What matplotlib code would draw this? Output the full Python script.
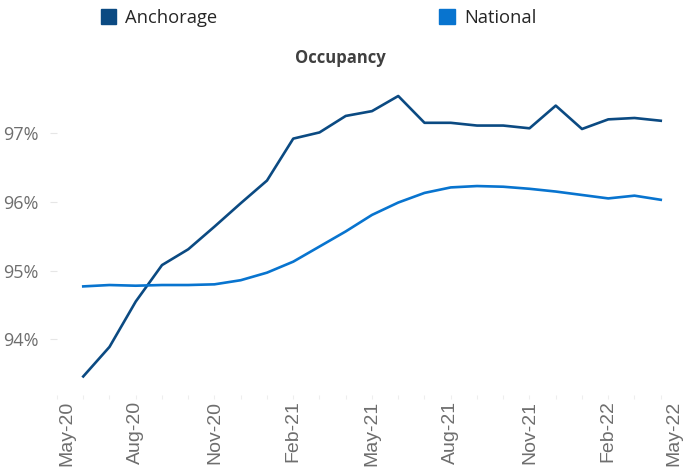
import matplotlib as mpl
mpl.use('Agg')
import matplotlib.pyplot as plt
import matplotlib.transforms as mtransforms
from matplotlib.patches import Patch
from matplotlib.ticker import MultipleLocator, FuncFormatter

# monthly data, Jun-20 .. Apr-22 (axis runs May-20 .. May-22)
axis_months = ['May-20', 'Jun-20', 'Jul-20', 'Aug-20', 'Sep-20', 'Oct-20', 'Nov-20',
               'Dec-20', 'Jan-21', 'Feb-21', 'Mar-21', 'Apr-21', 'May-21', 'Jun-21',
               'Jul-21', 'Aug-21', 'Sep-21', 'Oct-21', 'Nov-21', 'Dec-21', 'Jan-22',
               'Feb-22', 'Mar-22', 'Apr-22', 'May-22']
anchorage = [93.46, 93.89, 94.55, 95.08, 95.31, 95.64, 95.98, 96.31, 96.92, 97.01,
             97.25, 97.32, 97.54, 97.15, 97.15, 97.11, 97.11, 97.07, 97.40, 97.06,
             97.20, 97.22, 97.18]
national = [94.77, 94.79, 94.78, 94.79, 94.79, 94.80, 94.86, 94.97, 95.13, 95.35,
            95.57, 95.81, 95.99, 96.13, 96.21, 96.23, 96.22, 96.19, 96.15, 96.10,
            96.05, 96.09, 96.03]
y_ticks = [94, 95, 96, 97]

dark = '#0b4a82'
light = '#0874cf'
grey = '#6e6e6e'

fig = plt.figure(figsize=(6.83, 4.69), dpi=100)
ax = fig.add_axes([57 / 683, 1 - 395 / 469, 630 / 683, (395 - 85) / 469])

xs = list(range(1, len(anchorage) + 1))
ax.plot(xs, anchorage, color=dark, lw=1.9)
ax.plot(xs, national, color=light, lw=1.9)

ax.set_xlim(0, len(axis_months) - 1)
ax.set_ylim(93.19, 97.7)

for s in ax.spines.values():
    s.set_visible(False)

ax.set_yticks(y_ticks)
ax.yaxis.set_major_formatter(FuncFormatter(lambda v, p: '%d%%' % v))
ax.tick_params(axis='y', length=5, width=0.8, color='#e6e6e6', pad=8,
               labelsize=13, labelcolor=grey)
for lab in ax.get_yticklabels():
    lab.set_fontfamily('Open Sans')

ax.set_xticks(range(0, len(axis_months), 3))
ax.set_xticklabels(axis_months[::3], rotation=90, fontsize=14,
                   color=grey, fontfamily='Liberation Sans')
ax.xaxis.set_minor_locator(MultipleLocator(1))
ax.tick_params(axis='x', which='both', length=3, width=0.8, color='#eeeeee', pad=1)

# first/last labels nudged inward like the original
labs = ax.get_xticklabels()
labs[0].set_transform(labs[0].get_transform() +
                      mtransforms.ScaledTranslation(10 / 100, 0, fig.dpi_scale_trans))
labs[-1].set_transform(labs[-1].get_transform() +
                       mtransforms.ScaledTranslation(-13 / 100, 0, fig.dpi_scale_trans))

fig.text(340 / 683, 1 - 58 / 469, 'Occupancy', ha='center', va='center',
         fontsize=12, fontweight='bold', color='#404040', fontfamily='Open Sans')

handles = [Patch(color=dark, label='Anchorage'), Patch(color=light, label='National')]
fig.legend(handles=handles, ncol=2, loc='center left', bbox_to_anchor=(84 / 683, 1 - 18 / 469),
           frameon=False, handlelength=0.85, handleheight=0.85, handletextpad=0.5,
           columnspacing=12.1, prop={'family': 'Open Sans', 'size': 13.2},
           labelcolor='#262626')

fig.savefig('out.png', dpi=100)
